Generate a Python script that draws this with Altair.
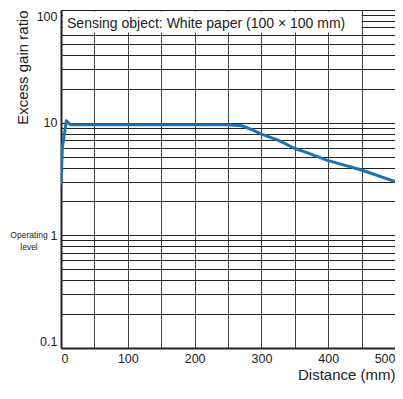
import altair as alt
import pandas as pd

# ---- data ----
distance = [0, 2, 8, 14, 100, 200, 250, 270, 285, 300, 325, 350, 365, 400, 450, 500]
gain = [2.8, 6.0, 10.4, 9.6, 9.6, 9.6, 9.6, 9.4, 8.7, 7.9, 7.0, 5.9, 5.5, 4.6, 3.8, 3.0]

x_grid_values = [0, 50, 100, 150, 200, 250, 300, 350, 400, 450, 500]
y_grid_values = [0.1, 0.2, 0.3, 0.4, 0.5, 0.6, 0.7, 0.8, 0.9,
                 1, 2, 3, 4, 5, 6, 7, 8, 9,
                 10, 20, 30, 40, 50, 60, 70, 80, 90, 100]

note_text = ["Sensing object: White paper (100 \u00d7 100 mm)"]
box_d = [3]
box_d2 = [450]
box_g = [63]
box_g2 = [97]
note_d = [9]
note_g = [75]

op_text = ["Operating", "level"]
op_g = [1]

x_title = "Distance (mm)"
y_title = "Excess gain ratio"

FONT = "Liberation Sans"
W, H = 334, 338

line_df = pd.DataFrame({"d": distance, "g": gain})
box_df = pd.DataFrame({"d": box_d, "d2": box_d2, "g": box_g, "g2": box_g2})
note_df = pd.DataFrame({"d": note_d, "g": note_g, "t": note_text})
op_df = pd.DataFrame({"g": op_g, "t": [op_text]})

x_enc = alt.X(
    "d:Q",
    scale=alt.Scale(domain=[0, 500], nice=False, zero=True),
    axis=alt.Axis(
        values=x_grid_values,
        labelExpr="datum.value % 100 === 0 ? datum.label : ''",
        labelOverlap=False,
        labelFlush=True,
        grid=True,
        gridColor="#444444",
        gridWidth=1,
        ticks=False,
        domainColor="#222222",
        domainWidth=2,
        labelFont=FONT,
        labelFontSize=12.5,
        labelColor="#222222",
        labelPadding=4,
        title=x_title,
        titleFont=FONT,
        titleFontSize=15,
        titleFontWeight="normal",
        titleColor="#222222",
        titleX=W,
        titleY=26,
        titleAlign="right",
        titleBaseline="middle",
    ),
)

y_enc = alt.Y(
    "g:Q",
    scale=alt.Scale(type="log", domain=[0.1, 100], nice=False),
    axis=alt.Axis(
        values=y_grid_values,
        labelExpr="(datum.value == 0.1 || datum.value == 1 || datum.value == 10 || datum.value == 100) ? format(datum.value, '~g') : ''",
        labelOverlap=False,
        labelFlush=True,
        grid=True,
        gridColor="#222222",
        gridWidth=1,
        ticks=False,
        domainColor="#222222",
        domainWidth=2,
        labelFont=FONT,
        labelFontSize=12.5,
        labelColor="#222222",
        labelPadding=4,
        title=y_title,
        titleFont=FONT,
        titleFontSize=15,
        titleFontWeight="normal",
        titleColor="#222222",
        titleAngle=270,
        titleX=-39,
        titleY=0,
        titleAlign="right",
        titleBaseline="middle",
    ),
)

box = alt.Chart(box_df).mark_rect(fill="white").encode(
    x=x_enc, x2="d2:Q", y=y_enc, y2="g2:Q"
)

note = alt.Chart(note_df).mark_text(
    align="left", baseline="middle", font=FONT, fontSize=14, color="#222222"
).encode(x=x_enc, y=y_enc, text="t:N")

line = alt.Chart(line_df).mark_line(
    color="#1a72b8", strokeWidth=3, strokeJoin="round", clip=True
).encode(x=x_enc, y=y_enc)

op = alt.Chart(op_df).mark_text(
    align="center",
    baseline="middle",
    font=FONT,
    fontSize=8.5,
    lineHeight=12,
    color="#222222",
).encode(x=alt.value(-32), y=y_enc, text="t")

chart = (
    alt.layer(box, note, line, op)
    .properties(
        width=W,
        height=H,
        autosize=alt.AutoSizeParams(type="none"),
        padding={"left": 53, "top": 2, "right": 0, "bottom": 36},
    )
    .configure_view(strokeWidth=0)
    .configure(background="white")
)

chart.save("out.html", embed_options={"renderer": "svg", "actions": False})
